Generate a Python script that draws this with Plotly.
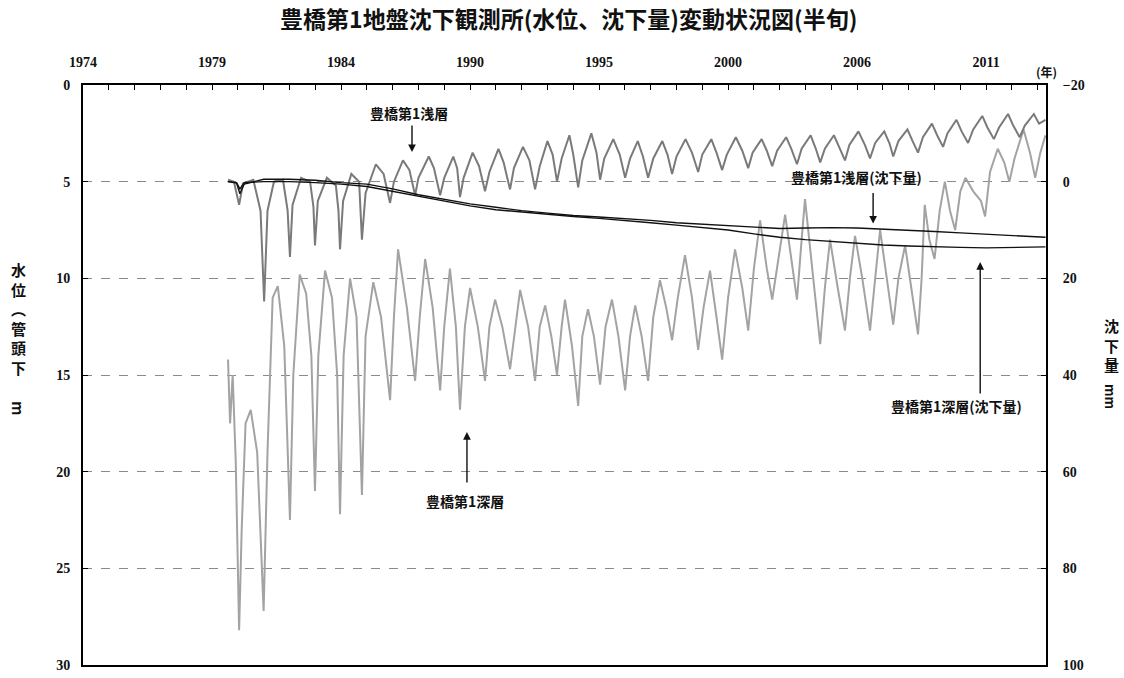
import plotly.graph_objects as go

# ---------------- data ----------------
# time in axis years (left edge = 1974), values in m below casing head
shallow_level = [
    (1979.62, 4.9), (1979.85, 5.0), (1980.05, 6.2), (1980.2, 5.1), (1980.6, 4.9), (1980.88, 6.5),
    (1981.02, 11.2), (1981.15, 6.5), (1981.4, 5.0), (1981.75, 4.9), (1981.93, 6.5), (1982.02, 8.9),
    (1982.12, 6.2), (1982.45, 4.8), (1982.8, 5.0), (1982.93, 6.3), (1982.99, 8.3), (1983.1, 6.0),
    (1983.45, 4.8), (1983.8, 5.2), (1983.9, 6.5), (1983.96, 8.5), (1984.08, 6.0), (1984.4, 4.6),
    (1984.7, 5.0), (1984.81, 8.0), (1984.95, 5.6), (1985.35, 4.1), (1985.65, 4.6), (1985.9, 6.1),
    (1986.05, 5.0), (1986.4, 3.9), (1986.65, 4.4), (1986.87, 5.7), (1987.0, 4.8), (1987.4, 3.7),
    (1987.6, 4.3), (1987.84, 5.7), (1988.0, 4.8), (1988.35, 3.7), (1988.5, 4.3), (1988.61, 5.8),
    (1988.75, 4.8), (1989.1, 3.5), (1989.35, 4.2), (1989.58, 5.5), (1989.75, 4.5), (1990.1, 3.3),
    (1990.3, 4.0), (1990.55, 5.4), (1990.7, 4.3), (1991.05, 3.2), (1991.3, 3.9), (1991.52, 5.4),
    (1991.7, 4.2), (1992.0, 2.9), (1992.2, 3.6), (1992.37, 5.0), (1992.55, 3.8), (1992.85, 2.6),
    (1993.0, 3.6), (1993.19, 5.3), (1993.35, 3.9), (1993.7, 2.5), (1993.9, 3.5), (1994.04, 4.9),
    (1994.2, 3.8), (1994.55, 2.8), (1994.8, 3.6), (1995.01, 4.8), (1995.2, 3.8), (1995.5, 2.9),
    (1995.7, 3.7), (1995.9, 4.8), (1996.1, 3.8), (1996.45, 2.9), (1996.65, 3.6), (1996.83, 4.6),
    (1997.0, 3.7), (1997.35, 2.8), (1997.6, 3.5), (1997.84, 4.5), (1998.0, 3.6), (1998.35, 2.8),
    (1998.55, 3.5), (1998.77, 4.4), (1998.95, 3.6), (1999.3, 2.7), (1999.55, 3.4), (1999.78, 4.3),
    (1999.95, 3.5), (2000.3, 2.8), (2000.5, 3.4), (2000.71, 4.2), (2000.9, 3.4), (2001.25, 2.7),
    (2001.45, 3.3), (2001.67, 4.1), (2001.85, 3.3), (2002.2, 2.6), (2002.4, 3.3), (2002.57, 4.0),
    (2002.75, 3.3), (2003.1, 2.6), (2003.3, 3.2), (2003.53, 3.9), (2003.7, 3.1), (2004.05, 2.4),
    (2004.3, 3.1), (2004.5, 3.8), (2004.7, 3.0), (2005.05, 2.4), (2005.25, 3.0), (2005.4, 3.7),
    (2005.6, 2.9), (2005.95, 2.3), (2006.15, 2.9), (2006.36, 3.5), (2006.55, 2.7), (2006.9, 2.0),
    (2007.1, 2.6), (2007.33, 3.2), (2007.5, 2.5), (2007.85, 1.8), (2008.05, 2.4), (2008.3, 3.0),
    (2008.5, 2.3), (2008.85, 1.6), (2009.05, 2.2), (2009.3, 2.8), (2009.5, 2.2), (2009.85, 1.5),
    (2010.05, 2.1), (2010.3, 2.7), (2010.5, 2.1), (2010.85, 1.5), (2011.05, 2.0), (2011.3, 1.8),
]

deep_level = [
    (1979.62, 14.2), (1979.7, 17.5), (1979.8, 15.0), (1979.92, 19.5), (1980.05, 28.2), (1980.15, 23.0),
    (1980.3, 17.5), (1980.5, 16.8), (1980.75, 19.0), (1981.0, 27.2), (1981.15, 19.0), (1981.35, 11.0),
    (1981.55, 10.4), (1981.8, 13.5), (1982.02, 22.5), (1982.15, 15.0), (1982.4, 9.8), (1982.65, 10.8),
    (1982.85, 14.0), (1982.99, 21.0), (1983.12, 14.0), (1983.38, 9.6), (1983.65, 11.0), (1983.85, 15.0),
    (1983.96, 22.2), (1984.1, 14.0), (1984.35, 10.0), (1984.6, 12.0), (1984.81, 21.2), (1984.95, 13.0),
    (1985.25, 10.2), (1985.55, 12.0), (1985.9, 16.3), (1986.05, 12.0), (1986.21, 8.5), (1986.55, 11.5),
    (1986.87, 15.3), (1987.05, 12.0), (1987.26, 9.0), (1987.55, 11.5), (1987.84, 15.8), (1988.0, 12.5),
    (1988.22, 9.5), (1988.45, 12.5), (1988.61, 16.8), (1988.8, 12.5), (1989.0, 10.5), (1989.3, 12.5),
    (1989.58, 15.3), (1989.75, 12.5), (1989.97, 11.1), (1990.25, 12.5), (1990.55, 14.7), (1990.75, 12.5),
    (1990.94, 10.6), (1991.25, 12.5), (1991.52, 15.3), (1991.7, 12.5), (1991.91, 11.4), (1992.15, 13.0),
    (1992.37, 15.0), (1992.55, 12.5), (1992.68, 11.1), (1992.95, 13.5), (1993.19, 16.6), (1993.35, 13.0),
    (1993.57, 11.6), (1993.8, 13.0), (1994.04, 15.5), (1994.25, 12.5), (1994.5, 11.1), (1994.75, 13.0),
    (1995.01, 15.8), (1995.2, 13.0), (1995.4, 11.4), (1995.65, 13.0), (1995.9, 15.3), (1996.1, 12.0),
    (1996.36, 10.1), (1996.6, 11.5), (1996.83, 13.2), (1997.05, 11.0), (1997.33, 8.8), (1997.6, 11.0),
    (1997.84, 13.7), (1998.05, 11.5), (1998.3, 9.6), (1998.55, 12.0), (1998.77, 14.2), (1999.0, 11.0),
    (1999.27, 8.5), (1999.55, 10.5), (1999.78, 12.7), (2000.0, 9.5), (2000.24, 7.0), (2000.5, 9.5),
    (2000.71, 11.1), (2000.95, 9.0), (2001.21, 6.7), (2001.45, 9.0), (2001.67, 11.1), (2001.85, 8.0),
    (2001.98, 5.9), (2002.3, 10.0), (2002.57, 13.4), (2002.75, 10.5), (2002.95, 8.0), (2003.25, 10.5),
    (2003.53, 12.7), (2003.72, 10.0), (2003.92, 7.8), (2004.2, 10.0), (2004.5, 12.7), (2004.7, 10.0),
    (2004.89, 7.5), (2005.15, 10.0), (2005.4, 12.4), (2005.6, 10.0), (2005.86, 8.3), (2006.1, 10.5),
    (2006.36, 12.9), (2006.5, 10.0), (2006.62, 6.2), (2006.8, 8.0), (2007.0, 9.0), (2007.2, 6.5),
    (2007.4, 5.0), (2007.6, 6.5), (2007.8, 7.5), (2008.0, 5.5), (2008.2, 4.8), (2008.5, 5.5),
    (2008.8, 6.0), (2008.96, 6.8), (2009.15, 4.5), (2009.45, 3.3), (2009.7, 4.0), (2009.9, 5.0),
    (2010.1, 3.8), (2010.45, 2.3), (2010.7, 3.5), (2010.9, 4.8), (2011.1, 3.5), (2011.3, 2.6),
]

# subsidence, mm (right axis)
shallow_subsidence = [
    (1979.62, 0.0), (1979.95, 0.3), (1980.08, 2.5), (1980.25, 0.5), (1981.0, -0.5), (1982.0, -0.5),
    (1983.0, -0.3), (1984.0, 0.2), (1985.0, 0.5), (1986.0, 1.5), (1987.0, 2.7), (1988.0, 3.6),
    (1989.0, 4.6), (1990.0, 5.3), (1991.0, 6.0), (1992.0, 6.5), (1993.0, 7.0), (1994.0, 7.3),
    (1995.0, 7.6), (1996.0, 8.0), (1997.0, 8.5), (1998.0, 8.8), (1999.0, 9.2), (2000.0, 9.5),
    (2001.0, 9.7), (2002.0, 9.6), (2003.0, 9.5), (2004.0, 9.6), (2005.0, 9.8), (2006.0, 10.0),
    (2007.0, 10.3), (2008.0, 10.6), (2009.0, 10.9), (2010.0, 11.2), (2011.3, 11.5),
]
deep_subsidence = [
    (1979.62, 0.0), (1979.95, 0.2), (1980.08, 1.5), (1980.25, 0.2), (1981.0, 0.0), (1982.0, 0.0),
    (1983.0, 0.2), (1984.0, 0.5), (1985.0, 1.0), (1986.0, 2.0), (1987.0, 3.0), (1988.0, 4.0),
    (1989.0, 5.0), (1990.0, 5.8), (1991.0, 6.3), (1992.0, 6.8), (1993.0, 7.2), (1994.0, 7.6),
    (1995.0, 8.0), (1996.0, 8.5), (1997.0, 9.0), (1998.0, 9.5), (1999.0, 10.0), (2000.0, 10.8),
    (2001.0, 11.5), (2002.0, 12.0), (2003.0, 12.4), (2004.0, 12.8), (2005.0, 13.1), (2006.0, 13.3),
    (2007.0, 13.5), (2008.0, 13.6), (2009.0, 13.7), (2010.0, 13.6), (2011.3, 13.5),
]

x_tick_labels = ["1974", "1979", "1984", "1990", "1995", "2000", "2006", "2011"]
y_left_ticks = [0, 5, 10, 15, 20, 25, 30]
y_right_ticks = [-20, 0, 20, 40, 60, 80, 100]

TITLE = "豊橋第1地盤沈下観測所(水位、沈下量)変動状況図(半旬)"
CJK = "Noto Sans CJK JP"
NUM = "Liberation Serif"

def unzip(pairs):
    return [p[0] for p in pairs], [p[1] for p in pairs]

fig = go.Figure()
t, v = unzip(deep_level)
fig.add_trace(go.Scatter(x=t, y=v, mode="lines", line=dict(color="#a3a3a3", width=2), name="豊橋第1深層"))
t, v = unzip(shallow_level)
fig.add_trace(go.Scatter(x=t, y=v, mode="lines", line=dict(color="#7a7a7a", width=2), name="豊橋第1浅層"))
t, v = unzip(shallow_subsidence)
fig.add_trace(go.Scatter(x=t, y=v, mode="lines", line=dict(color="#111111", width=1.4), yaxis="y2",
                         name="豊橋第1浅層(沈下量)"))
t, v = unzip(deep_subsidence)
fig.add_trace(go.Scatter(x=t, y=v, mode="lines", line=dict(color="#111111", width=1.4), yaxis="y2",
                         name="豊橋第1深層(沈下量)"))

x0 = 1974
x_tickvals = [x0 + 5 * i for i in range(len(x_tick_labels))]

tick_font = dict(family=NUM, size=14, color="#111", weight="bold")

fig.update_layout(
    width=1124, height=678,
    margin=dict(l=83, r=78, t=85, b=13),
    paper_bgcolor="white", plot_bgcolor="white",
    showlegend=False,
    title=dict(text=TITLE, x=0.506, xanchor="center", y=1 - 20 / 678, yanchor="middle",
               font=dict(family=CJK, size=23, color="#111", weight="bold")),
    xaxis=dict(
        side="top", range=[1974, 2011.32], tickmode="array", tickvals=x_tickvals, ticktext=x_tick_labels,
        ticks="inside", ticklen=5, tickwidth=1.2, tickcolor="black",
        minor=dict(tickmode="linear", tick0=1974, dtick=1, ticks="inside", ticklen=5, tickcolor="black",
                   showgrid=False),
        showline=True, linecolor="black", linewidth=2, mirror=True, showgrid=False, zeroline=False,
        tickfont=tick_font, ticklabelstandoff=10,
        automargin=False,
    ),
    yaxis=dict(
        range=[30, 0], tickmode="array", tickvals=y_left_ticks, ticks="inside", ticklen=5,
        tickcolor="black", showline=True, linecolor="black", linewidth=2, mirror=True,
        showgrid=True, gridcolor="#8a8a8a", griddash="dash", gridwidth=1, zeroline=False,
        tickfont=tick_font, ticklabelstandoff=8,
        automargin=False,
    ),
    yaxis2=dict(
        range=[100, -20], overlaying="y", side="right", tickmode="array", tickvals=y_right_ticks,
        ticks="inside", ticklen=5, tickcolor="black", showline=True, linecolor="black", linewidth=2,
        showgrid=False, zeroline=False,
        tickfont=tick_font, ticklabelstandoff=12,
        automargin=False,
    ),
)

def px_to_paper_x(px):
    return (px - 83) / 963

def px_to_paper_y(py):
    return 1 - (py - 85) / 580

ann = []
lab_font = dict(family=CJK, size=14, color="#111", weight="bold")
# text labels (paper coords)
for txt, cx, cy in [("豊橋第1浅層", 409, 113), ("豊橋第1浅層(沈下量)", 856, 177),
                    ("豊橋第1深層(沈下量)", 956, 406), ("豊橋第1深層", 465, 501)]:
    ann.append(dict(text=txt, x=px_to_paper_x(cx), y=px_to_paper_y(cy), xref="paper", yref="paper",
                    xanchor="center", yanchor="middle", showarrow=False, font=lab_font))
# arrows (head at data point, tail offset in px)
for hx, hy, ay in [(1986.75, 3.47, -28), (2004.62, 7.17, -32), (2008.77, 9.16, 133), (1988.88, 17.95, 52)]:
    ann.append(dict(text="", x=hx, y=hy, xref="x", yref="y", showarrow=True, ax=0, ay=ay,
                    arrowhead=2, arrowsize=1.1, arrowwidth=1.4, arrowcolor="#111"))
# year unit
ann.append(dict(text="(年)", x=px_to_paper_x(1059), y=px_to_paper_y(61), xref="paper", yref="paper",
                showarrow=False, font=dict(family=CJK, size=12, color="#111", weight="bold")))
# axis titles
ann.append(dict(text="水<br>位<br>︵<br>管<br>頭<br>下", x=px_to_paper_x(18), y=px_to_paper_y(318),
                xref="paper", yref="paper", showarrow=False, xanchor="center", yanchor="middle",
                font=dict(family=CJK, size=15, color="#111", weight="bold")))
ann.append(dict(text="m", x=px_to_paper_x(18), y=px_to_paper_y(408), xref="paper", yref="paper",
                showarrow=False, textangle=90, xanchor="center", yanchor="middle",
                font=dict(family=CJK, size=15, color="#111", weight="bold")))
ann.append(dict(text="沈<br>下<br>量", x=px_to_paper_x(1111), y=px_to_paper_y(345),
                xref="paper", yref="paper", showarrow=False, xanchor="center", yanchor="middle",
                font=dict(family=CJK, size=15, color="#111", weight="bold")))
ann.append(dict(text="mm", x=px_to_paper_x(1111), y=px_to_paper_y(396), xref="paper", yref="paper",
                showarrow=False, textangle=90, xanchor="center", yanchor="middle",
                font=dict(family=CJK, size=13, color="#111", weight="bold")))
fig.update_layout(annotations=ann)

fig.write_html("out.html", config={"displayModeBar": False},
               post_script="document.body.style.margin='0';document.body.style.overflow='hidden';")
